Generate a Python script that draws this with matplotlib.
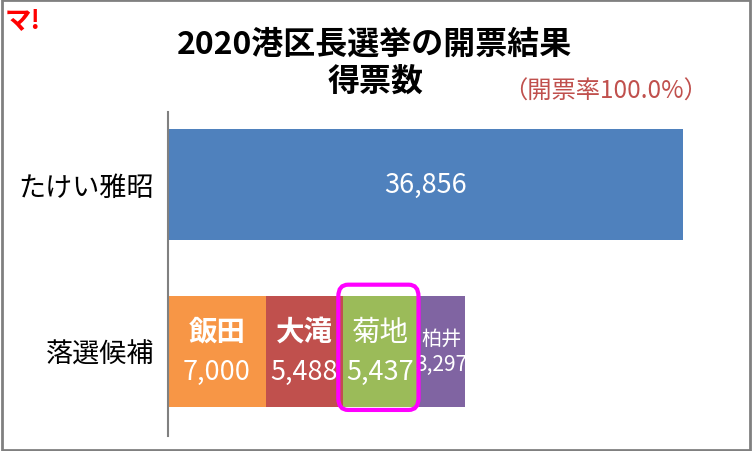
import matplotlib
matplotlib.use('Agg')
import matplotlib.pyplot as plt
from matplotlib.patches import FancyBboxPatch, Rectangle

plt.rcParams['font.family'] = ['Noto Sans CJK JP', 'DejaVu Sans']

# ── data ──────────────────────────────────────────────────────────────
categories   = ['落選候補', 'たけい雅昭']
winner_votes = 36856
loser_names  = ['飯田', '大滝', '菊地', '柏井']
loser_votes  = [7000, 5488, 5437, 3297]
loser_colors = ['#f79646', '#c0504d', '#9bbb59', '#8064a2']
name_sizes   = [20.5, 20.5, 20.5, 14.5]
name_weights = ['bold', 'bold', 'normal', 'normal']
num_sizes    = [19.5, 19.5, 19.5, 15]

fig = plt.figure(figsize=(7.52, 4.52), dpi=100)
ax = fig.add_axes([168 / 752, 1 - 437 / 452, (727 - 168) / 752, (437 - 113) / 452])

bar_h = 0.66
ax.barh(1, winner_votes, height=bar_h, color='#4f81bd')
ax.text(winner_votes / 2, 1, f'{winner_votes:,}', color='white',
        fontsize=19.5, ha='center', va='center')

left = 0
for name, v, c, ns, nw, nums in zip(loser_names, loser_votes, loser_colors,
                                     name_sizes, name_weights, num_sizes):
    bars = ax.barh(0, v, left=left, height=bar_h, color=c)
    cx = left + v / 2
    small = ns < 17
    t1 = ax.text(cx, 0.08 if small else 0.117, name, color='white', fontsize=ns,
                 fontweight=nw, ha='center', va='center')
    t2 = ax.text(cx, -0.075 if small else -0.117, f'{v:,}', color='white',
                 fontsize=nums, ha='center', va='center')
    if small:
        t1.set_clip_path(bars[0])
        t2.set_clip_path(bars[0])
    left += v

# highlight box round 菊地
k0 = sum(loser_votes[:2])
hl = FancyBboxPatch((k0 - 300, -0.35), loser_votes[2] + 300, 0.75,
                    boxstyle='round,pad=0,rounding_size=700',
                    mutation_aspect=0.0001 * 1.0,
                    fill=False, edgecolor='#ff00ff', linewidth=3, zorder=5,
                    clip_on=False)
ax.add_patch(hl)

ax.set_xlim(0, 40000)
ax.set_ylim(-0.506, 1.434)
ax.set_yticks([0, 1])
ax.set_yticklabels(categories, fontsize=19.5)
ax.tick_params(axis='y', length=0, pad=10)
ax.set_xticks([])
for s in ['top', 'right', 'bottom']:
    ax.spines[s].set_visible(False)
ax.spines['left'].set_color('#808080')
ax.spines['left'].set_linewidth(1.5)

# titles
fig.text(375 / 752, 1 - 45 / 452, '2020港区長選挙の開票結果', fontsize=23,
         fontweight='bold', ha='center', va='center')
fig.text(376 / 752, 1 - 82 / 452, '得票数', fontsize=23, fontweight='bold',
         ha='center', va='center')
fig.text(606 / 752, 1 - 92 / 452, '（開票率100.0%）', fontsize=17.5,
         color='#c0504d', ha='center', va='center')
fig.text(23 / 752, 1 - 21 / 452, 'マ!', fontsize=19, color='#ff0000',
         fontweight='bold', style='italic', ha='center', va='center')

# outer frame
fig.patches.append(Rectangle((0.002, 0.003), 0.996, 0.994, transform=fig.transFigure,
                             fill=False, edgecolor='#808080', linewidth=2))

fig.savefig('out.png', dpi=100)
